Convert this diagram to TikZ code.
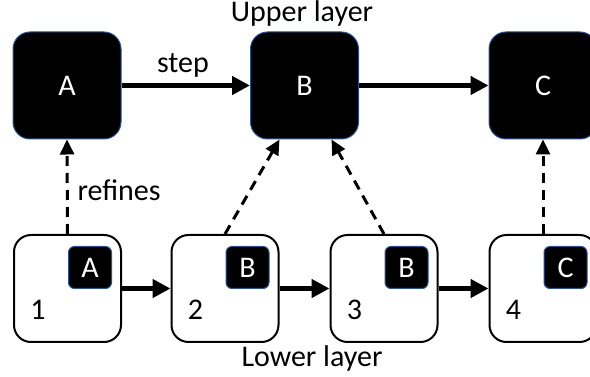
\documentclass[tikz,border=0pt]{standalone}
\usepackage{fontspec}
\setmainfont{Carlito}
\usetikzlibrary{arrows.meta}
\definecolor{edgeblue}{HTML}{2F528F}
\tikzset{
  x=1pt, y=-1pt,
  every node/.style={font=\fontsize{30}{32}\selectfont},
  upbox/.style={draw=edgeblue, line width=1pt, fill=black, text=white, rounded corners=17pt,
    minimum width=108pt, minimum height=107pt, inner sep=0pt},
  lowbox/.style={draw=black, line width=2pt, fill=white, rounded corners=17pt,
    minimum width=107pt, minimum height=107pt, inner sep=0pt},
  badge/.style={draw=edgeblue, line width=1pt, fill=black, text=white, rounded corners=6pt,
    minimum width=43pt, minimum height=42pt, inner sep=0pt},
  solidarrow/.style={line width=5.5pt, -{Triangle[length=18pt,width=18pt]}},
  dasharrow/.style={line width=3pt, dash pattern=on 10pt off 7pt, -{Triangle[length=15pt,width=14pt]}},
  plain/.style={inner sep=0pt},
}
\begin{document}
\begin{tikzpicture}
\useasboundingbox (0,0) rectangle (590,377);
% upper layer
\node[upbox] (A) at (67,85.5) {A};
\node[upbox] (B) at (304.5,85.5) {B};
\node[upbox] (C) at (543,85.5) {C};
% lower layer
\node[lowbox] (L1) at (67.5,288.5) {};
\node[lowbox] (L2) at (225,288.5) {};
\node[lowbox] (L3) at (384,288.5) {};
\node[lowbox] (L4) at (543,288.5) {};
% badges
\node[badge, anchor=north east] (b1) at ([xshift=-10pt,yshift=-12pt]L1.north east) {A};
\node[badge, anchor=north east] (b2) at ([xshift=-10pt,yshift=-12pt]L2.north east) {B};
\node[badge, anchor=north east] (b3) at ([xshift=-10pt,yshift=-12pt]L3.north east) {B};
\node[badge, anchor=north east] (b4) at ([xshift=-10pt,yshift=-12pt]L4.north east) {C};
% numbers
\node[plain] (n1) at ([xshift=25pt,yshift=33pt]L1.south west) {1};
\node[plain] (n2) at ([xshift=25pt,yshift=33pt]L2.south west) {2};
\node[plain] (n3) at ([xshift=25pt,yshift=33pt]L3.south west) {3};
\node[plain] (n4) at ([xshift=25pt,yshift=33pt]L4.south west) {4};
% labels
\node (up) at (302,14) {Upper layer};
\node (low) at (312,359) {Lower layer};
\node (stp) at (183,65) {step};
\node[anchor=west] (ref) at (74,190) {refines};
% solid arrows
\draw[solidarrow] (A) -- (B);
\draw[solidarrow] (B) -- (C);
\draw[solidarrow] (L1) -- (L2);
\draw[solidarrow] (L2) -- (L3);
\draw[solidarrow] (L3) -- (L4);
% dashed arrows
\draw[dasharrow] (L1.north) -- (A.south);
\draw[dasharrow] (L2.north) -- ([xshift=-25pt]B.south);
\draw[dasharrow] (L3.north) -- ([xshift=27pt]B.south);
\draw[dasharrow] (L4.north) -- (C.south);
\end{tikzpicture}
\end{document}
